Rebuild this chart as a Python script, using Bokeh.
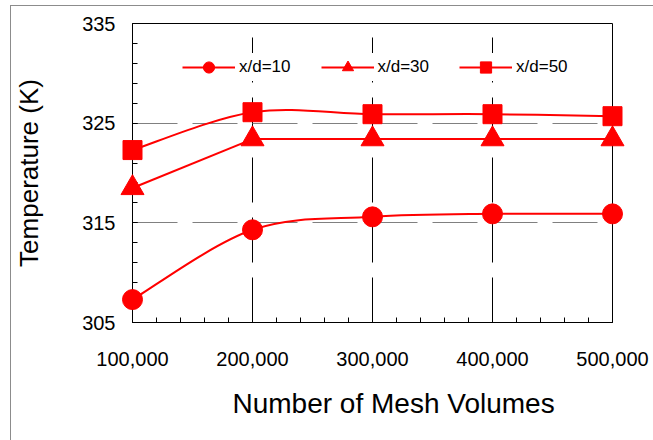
import numpy as np
from bokeh.plotting import figure
from bokeh.models import (Range1d, LinearAxis, FixedTicker, Legend, LegendItem,
                          Grid, ColumnDataSource, Title)
from bokeh.embed import file_html
from bokeh.resources import INLINE

# ---- data ----
mesh = [100000, 200000, 300000, 400000, 500000]
t_xd10 = [307.3, 314.3, 315.6, 315.9, 315.9]
t_xd30 = [318.5, 323.4, 323.4, 323.4, 323.4]
t_xd50 = [322.3, 326.1, 325.9, 325.9, 325.7]
series_names = ["x/d=10", "x/d=30", "x/d=50"]
series_markers = ["circle", "triangle", "square"]
marker_sizes = [20, 23, 19]
series_smooth = [1.0 / 6.0, 0.0, 1.0 / 6.0]   # x/d=30 drawn as straight segments

x_ticks = [100000, 200000, 300000, 400000, 500000]
x_tick_labels = ["100,000", "200,000", "300,000", "400,000", "500,000"]
x_minor = list(range(100000, 500001, 20000))
y_ticks = [305, 315, 325, 335]
y_minor = list(range(305, 336, 2))

x_title = "Number of Mesh Volumes"
y_title = "Temperature (K)"

XLO, XHI = 100000, 500000
YLO, YHI = 305, 335
PX_PER_X = 480.0 / (XHI - XLO)
PX_PER_Y = 299.0 / (YHI - YLO)
PAD_L, PAD_R, PAD_T, PAD_B = 17, 15, 15, 15   # px around the data box

FONT = "Liberation Sans"
RED = "#ff0000"


def smooth_segments(xs, ys, k):
    """Excel-like smoothed line: cubic Bezier through the points."""
    xs = np.asarray(xs, float)
    ys = np.asarray(ys, float)
    n = len(xs)
    d = {key: [] for key in ["x0", "y0", "x1", "y1", "cx0", "cy0", "cx1", "cy1"]}
    for i in range(n - 1):
        ip = max(i - 1, 0)
        inx = min(i + 2, n - 1)
        d["x0"].append(xs[i]); d["y0"].append(ys[i])
        d["x1"].append(xs[i + 1]); d["y1"].append(ys[i + 1])
        d["cx0"].append(xs[i] + (xs[i + 1] - xs[ip]) * k)
        d["cy0"].append(ys[i] + (ys[i + 1] - ys[ip]) * k)
        d["cx1"].append(xs[i + 1] - (xs[inx] - xs[i]) * k)
        d["cy1"].append(ys[i + 1] - (ys[inx] - ys[i]) * k)
    return d


p = figure(width=653, height=440, output_backend="svg", toolbar_location=None,
           x_range=Range1d(XLO - PAD_L / PX_PER_X, XHI + PAD_R / PX_PER_X),
           y_range=Range1d(YLO - PAD_B / PX_PER_Y, YHI + PAD_T / PX_PER_Y),
           x_axis_type=None, y_axis_type=None,
           min_border_left=115, min_border_right=26,
           min_border_top=8, min_border_bottom=103)
p.outline_line_color = None
p.background_fill_color = "white"
p.border_fill_color = "white"
p.border_fill_alpha = 0.0
p.styles = {
    "background": ("linear-gradient(#8c8c8c,#8c8c8c) 10px 5px / 700px 1px no-repeat, "
                   "linear-gradient(#8c8c8c,#8c8c8c) 10px 5px / 1px 500px no-repeat, white"),
}

xticker = FixedTicker(ticks=x_ticks, minor_ticks=x_minor)
yticker = FixedTicker(ticks=y_ticks, minor_ticks=y_minor)

# grids
xgrid = Grid(dimension=0, ticker=xticker, grid_line_color="black",
             grid_line_width=1, grid_line_dash="45 15", cross_bounds=(YLO, YHI))
ygrid = Grid(dimension=1, ticker=yticker, grid_line_color="#808080",
             grid_line_width=1, grid_line_dash="45 15", cross_bounds=(XLO, XHI))
p.add_layout(xgrid)
p.add_layout(ygrid)


def box_axis(ax, tick_in):
    """Axis drawn on the edge of the data box: line and inward ticks only."""
    ax.axis_line_color = "black"
    ax.axis_line_width = 1
    ax.major_tick_line_color = "black"
    ax.minor_tick_line_color = "black"
    ax.major_tick_in = tick_in
    ax.major_tick_out = 0
    ax.minor_tick_in = tick_in
    ax.minor_tick_out = 0
    ax.major_label_standoff = 0
    ax.major_label_text_font_size = "0px"
    ax.major_label_text_alpha = 0.0


def label_axis(ax):
    """Axis on the panel edge: tick labels and title only."""
    ax.axis_line_color = None
    ax.major_tick_line_color = None
    ax.minor_tick_line_color = None
    ax.major_tick_in = 0
    ax.major_tick_out = 0
    ax.minor_tick_in = 0
    ax.minor_tick_out = 0
    ax.major_label_text_font = FONT
    ax.major_label_text_font_size = "20px"
    ax.major_label_text_color = "black"
    ax.axis_label_text_font = FONT
    ax.axis_label_text_font_style = "normal"
    ax.axis_label_text_color = "black"


bx = LinearAxis(ticker=xticker, fixed_location=YLO, bounds=(XLO, XHI))
box_axis(bx, 5)
p.add_layout(bx, "below")
by = LinearAxis(ticker=yticker, fixed_location=XLO, bounds=(YLO, YHI))
box_axis(by, 5)
p.add_layout(by, "left")
bt = LinearAxis(ticker=FixedTicker(ticks=[]), fixed_location=YHI, bounds=(XLO, XHI))
box_axis(bt, 0)
p.add_layout(bt, "above")
br_ax = LinearAxis(ticker=FixedTicker(ticks=[]), fixed_location=XHI, bounds=(YLO, YHI))
box_axis(br_ax, 0)
p.add_layout(br_ax, "right")

lx = LinearAxis(ticker=xticker,
                major_label_overrides={t: s for t, s in zip(x_ticks, x_tick_labels)})
label_axis(lx)
lx.major_label_standoff = 14
p.add_layout(lx, "below")

xt = Title(text=x_title, align="left", vertical_align="middle", offset=117,
           standoff=36, text_font=FONT, text_font_size="28px",
           text_font_style="normal", text_color="black")
p.add_layout(xt, "below")

ly = LinearAxis(ticker=yticker, axis_label=y_title)
label_axis(ly)
ly.major_label_standoff = 0
ly.axis_label_standoff = 35
ly.axis_label_text_font_size = "26px"
p.add_layout(ly, "left")

items = []
for ys, name, mk, sz, k in zip([t_xd10, t_xd30, t_xd50], series_names, series_markers,
                                marker_sizes, series_smooth):
    src = ColumnDataSource(smooth_segments(mesh, ys, k))
    bz = p.bezier(x0="x0", y0="y0", x1="x1", y1="y1", cx0="cx0", cy0="cy0",
                  cx1="cx1", cy1="cy1", source=src, line_color=RED, line_width=2)
    sr = p.scatter(mesh, ys, marker=mk, size=sz, fill_color=RED, line_color=RED,
                   level="overlay")
    items.append(LegendItem(label=name, renderers=[bz, sr]))

legend = Legend(items=items, location=(67, 256), orientation="horizontal",
                glyph_width=53, glyph_height=28, label_height=28, label_standoff=4,
                spacing=30, padding=6, background_fill_color="white",
                background_fill_alpha=1.0, border_line_color=None,
                label_text_font=FONT, label_text_font_size="17px",
                label_text_color="black")
p.add_layout(legend)

open("out.html", "w").write(file_html(p, INLINE))
